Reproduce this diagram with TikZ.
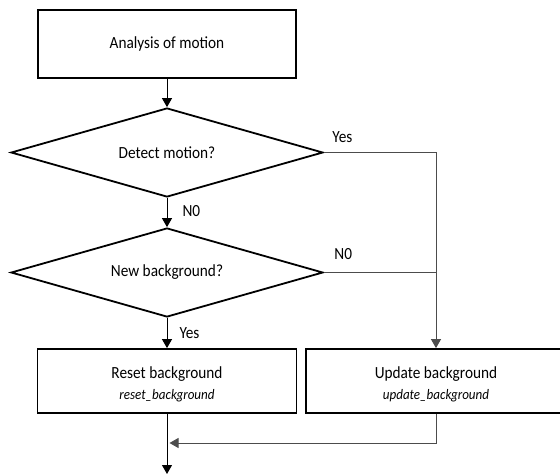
\documentclass[tikz,border=0pt]{standalone}
\usepackage{fontspec}
\setmainfont{Carlito}
\newfontfamily\narrowfont[FakeStretch=0.9]{Carlito}
\usetikzlibrary{shapes.geometric,arrows.meta}
\begin{document}
\begin{tikzpicture}[x=1pt,y=-1pt,
  txt/.style={font=\narrowfont\fontsize{17}{20}\selectfont},
  box/.style={draw, line width=1.8pt, rectangle, inner sep=0pt, align=center, txt},
  dec/.style={draw, line width=1.8pt, diamond, shape aspect=3.5, inner sep=0pt,
    minimum width=312pt, minimum height=89pt, txt},
  conn/.style={line width=1pt, draw=black},
  sideconn/.style={line width=1pt, draw=black!70},
  tip/.style={-{Triangle[width=10pt,length=9pt]}},
  lbl/.style={anchor=west, inner sep=0pt, txt}
]
\useasboundingbox (0,0) rectangle (560,475);
\clip (0,0) rectangle (560,475);

% nodes
\node[box, minimum width=258pt, minimum height=68pt] (a) at (167,44) {Analysis of motion};
\node[dec] (d1) at (167,152.5) {Detect motion?};
\node[dec] (d2) at (167,272.5) {New background?};
\node[box, minimum width=259pt, minimum height=64pt] (r) at (167,381)
  {\rule{0pt}{18pt}Reset background\\[1pt]{\narrowfont\fontsize{14.5}{16}\selectfont\itshape reset\_background}};
\node[box, minimum width=260pt, minimum height=64pt] (u) at (436,381)
  {\rule{0pt}{18pt}Update background\\[1pt]{\narrowfont\fontsize{14.5}{16}\selectfont\itshape update\_background}};

% junction points
\coordinate (j1) at (436,152.5);
\coordinate (j2) at (436,272.5);
\coordinate (j3) at (436,443);
\coordinate (j4) at (169.5,443);
\coordinate (e) at (167,474);

% connectors
\draw[conn, tip] (a.south) -- (d1.north);
\draw[conn, tip] (d1.south) -- node[lbl, xshift=15pt, yshift=1.5pt] {N0} (d2.north);
\draw[conn, tip] (d2.south) -- node[lbl, xshift=12pt] {Yes} (r.north);
\draw[sideconn, tip] (d1.east) -- node[pos=0, lbl, xshift=8pt, yshift=15.5pt] {Yes} (j1) -- (u.north);
\draw[sideconn] (d2.east) -- node[pos=0, lbl, xshift=10pt, yshift=18pt] {N0} (j2);
\draw[sideconn, tip] (u.south) -- (j3) -- (j4);
\draw[conn, tip] (r.south) -- (e);
\end{tikzpicture}
\end{document}
